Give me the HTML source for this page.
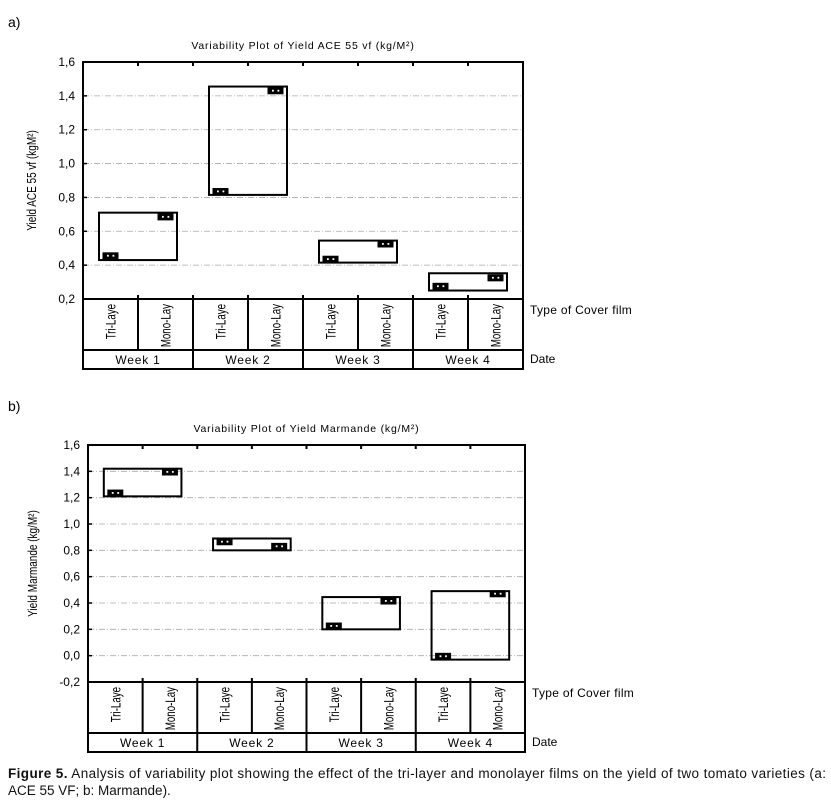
<!DOCTYPE html>
<html><head><meta charset="utf-8"><style>
body{margin:0;background:#fff;width:831px;height:802px;overflow:hidden;font-family:"Liberation Sans",sans-serif}
svg text{font-family:"Liberation Sans",sans-serif}
</style></head><body>
<svg id="s" width="831" height="802">
<text x="8" y="27" font-size="14">a)</text>
<text x="8" y="411" font-size="14">b)</text>
<text x="8" y="778" font-size="13.5" fill="#111" textLength="818" lengthAdjust="spacing"><tspan font-weight="bold">Figure 5.</tspan> Analysis of variability plot showing the effect of the tri-layer and monolayer films on the yield of two tomato varieties (a:</text>
<text x="8" y="795" font-size="13.5" fill="#111">ACE 55 VF; b:  Marmande).</text>
</svg>
<script>
const weeks=["Week 1","Week 2","Week 3","Week 4"];
const films=["Tri-Laye","Mono-Lay"];
const aTicks=[0.2,0.4,0.6,0.8,1.0,1.2,1.4,1.6];
const aBoxHi=[0.71,1.455,0.545,0.352];
const aBoxLo=[0.43,0.815,0.415,0.25];
const aTri=[0.455,0.835,0.435,0.275];
const aMono=[0.685,1.43,0.525,0.325];
const bTicks=[-0.2,0.0,0.2,0.4,0.6,0.8,1.0,1.2,1.4,1.6];
const bBoxHi=[1.42,0.89,0.445,0.49];
const bBoxLo=[1.21,0.8,0.2,-0.03];
const bTri=[1.235,0.865,0.225,-0.005];
const bMono=[1.395,0.83,0.415,0.47];
const NS="http://www.w3.org/2000/svg";
const svg=document.getElementById('s');
function mk(t,a,txt){const e=document.createElementNS(NS,t);for(const k in a)e.setAttribute(k,a[k]);if(txt!=null)e.textContent=txt;svg.appendChild(e);return e;}
function chart(p,c){
 const x0=c.x0,x1=c.x1,yT=c.yT,yB=c.yB,vmin=c.ticks[0],vmax=c.ticks[c.ticks.length-1];
 const Y=v=>yB-(v-vmin)/(vmax-vmin)*(yB-yT);
 const cw=(x1-x0)/8;
 const X=i=>x0+cw*(i+0.5);
 let t=mk('text',{x:(x0+x1)/2,y:yT-13,'font-size':10.5,'text-anchor':'middle','letter-spacing':'0.8'},c.title);
 
 t=mk('text',{transform:`translate(${c.ylx},${(yT+yB)/2}) rotate(-90) scale(0.8,1)`,'font-size':12.5,'text-anchor':'middle'},c.ylab);
 
 c.ticks.forEach(v=>{
  const y=Y(v);
  if(v!==vmin&&v!==vmax){const g=mk('line',{x1:x0,x2:x1,y1:y,y2:y,stroke:'#aaa','stroke-dasharray':'6,2,1,2','stroke-width':0.8});
   }
  const tk=mk('line',{x1:x0,x2:x0+4,y1:y,y2:y,stroke:'#000','stroke-width':1.5});
  
  const l=mk('text',{x:x0-8,y:y+4,'font-size':12,'text-anchor':'end'},v.toFixed(1).replace('.',','));
  
 });
 for(let i=1;i<8;i++){const tk=mk('line',{x1:x0+cw*i,x2:x0+cw*i,y1:yT,y2:yT+4,stroke:'#000','stroke-width':2});
  }
 const fr=mk('rect',{x:x0,y:yT,width:x1-x0,height:yB-yT,fill:'none',stroke:'#000','stroke-width':2});
 
 weeks.forEach((w,i)=>{
  const bx=mk('rect',{x:X(2*i)-11.5,y:Y(c.hi[i]),width:X(2*i+1)-X(2*i)+23,height:Y(c.lo[i])-Y(c.hi[i]),fill:'none',stroke:'#000','stroke-width':2});
  
  [[c.tri[i],2*i],[c.mono[i],2*i+1]].forEach(([v,j])=>{
   const m=mk('rect',{x:X(j)-8,y:Y(v)-3.5,width:16,height:7,fill:'#000'});
   
   [-3.5,2].forEach(dx=>{const d=mk('rect',{x:X(j)+dx,y:Y(v)-1,width:1.8,height:1.8,fill:'#fff'});
    });
  });
 });
 const r1=yB+51,r2=r1+19;
 const cat=mk('rect',{x:x0,y:yB,width:x1-x0,height:r2-yB,fill:'none',stroke:'#000','stroke-width':2});
 
 let h=mk('line',{x1:x0,x2:x1,y1:r1,y2:r1,stroke:'#000','stroke-width':2});
 
 for(let i=1;i<8;i++){const v=mk('line',{x1:x0+cw*i,x2:x0+cw*i,y1:yB-4,y2:i%2?r1:r2,stroke:'#000','stroke-width':2});
  }
 for(let j=0;j<8;j++){const f=mk('text',{transform:`translate(${X(j)+5},${yB+5}) rotate(-90) scale(0.72,1)`,'font-size':13.5,'text-anchor':'end'},films[j%2]);
  }
 weeks.forEach((w,i)=>{const l=mk('text',{x:x0+cw*(2*i+1),y:r2-5,'font-size':12,'text-anchor':'middle','letter-spacing':'0.8'},w);
  });
 let l=mk('text',{x:x1+7,y:yB+15,'font-size':12,'letter-spacing':'0.3'},'Type of Cover film');
 
 l=mk('text',{x:x1+7,y:r2-6,'font-size':12},'Date');
 
}
chart('a',{x0:83,x1:523,yT:62,yB:299,ylx:36,ticks:aTicks,hi:aBoxHi,lo:aBoxLo,tri:aTri,mono:aMono,title:'Variability Plot of Yield ACE 55 vf (kg/M²)',ylab:'Yield ACE 55 vf (kgM²)'});
chart('b',{x0:88,x1:525,yT:445,yB:682,ylx:37,ticks:bTicks,hi:bBoxHi,lo:bBoxLo,tri:bTri,mono:bMono,title:'Variability Plot of Yield Marmande (kg/M²)',ylab:'Yield Marmande (kg/M²)'});
</script>
</body></html>
